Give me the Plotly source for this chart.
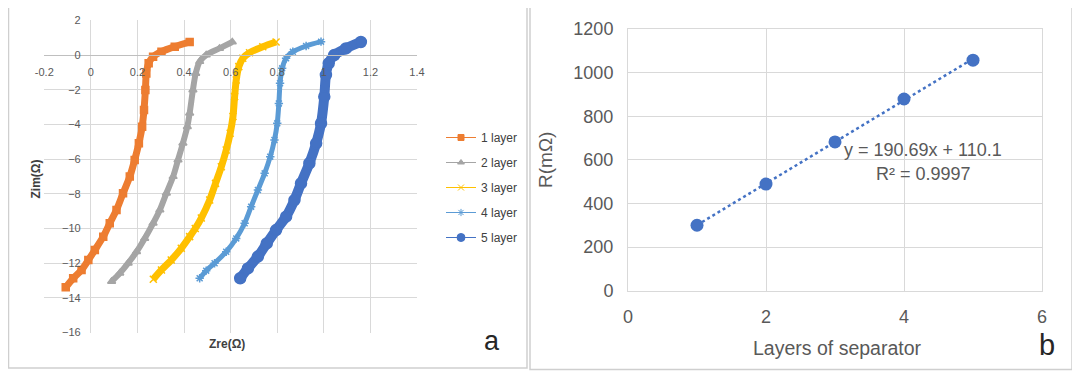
import plotly.graph_objects as go

# ---------------- data: panel a (Nyquist curves) ----------------
L1_RE = [-0.108, -0.076, -0.04, -0.011, 0.017, 0.053, 0.081, 0.11, 0.138, 0.167, 0.188, 0.206, 0.22, 0.228, 0.234, 0.238, 0.248, 0.267, 0.303, 0.36, 0.424]
L1_IM = [-13.39, -12.87, -12.39, -11.82, -11.24, -10.47, -9.70, -8.93, -7.97, -7.01, -6.05, -5.09, -4.13, -3.17, -2.02, -1.06, -0.48, -0.10, 0.19, 0.48, 0.75]

L2_RE = [0.089, 0.124, 0.16, 0.196, 0.231, 0.267, 0.296, 0.324, 0.353, 0.374, 0.395, 0.414, 0.424, 0.438, 0.45, 0.467, 0.495, 0.552, 0.607]
L2_IM = [-13.05, -12.58, -12.0, -11.34, -10.57, -9.70, -8.93, -7.97, -7.01, -6.05, -5.09, -4.13, -3.36, -2.02, -1.06, -0.38, 0.0, 0.38, 0.75]

L3_RE = [0.268, 0.303, 0.345, 0.388, 0.424, 0.448, 0.474, 0.51, 0.535, 0.56, 0.581, 0.598, 0.61, 0.617, 0.624, 0.635, 0.652, 0.681, 0.738, 0.795]
L3_IM = [-12.92, -12.39, -11.82, -11.14, -10.47, -10.0, -9.4, -8.36, -7.40, -6.44, -5.48, -4.51, -3.55, -2.40, -1.44, -0.67, -0.19, 0.13, 0.48, 0.75]

L4_RE = [0.467, 0.495, 0.531, 0.581, 0.624, 0.66, 0.688, 0.717, 0.746, 0.77, 0.788, 0.80, 0.807, 0.812, 0.821, 0.838, 0.867, 0.924, 0.988]
L4_IM = [-12.87, -12.43, -12.0, -11.34, -10.57, -9.70, -8.74, -7.78, -6.82, -5.86, -4.90, -3.94, -2.79, -1.63, -0.77, -0.19, 0.19, 0.52, 0.77]

L5_RE = [0.641, 0.674, 0.717, 0.755, 0.795, 0.838, 0.874, 0.902, 0.938, 0.967, 0.988, 1.002, 1.009, 1.021, 1.045, 1.095, 1.159]
L5_IM = [-12.87, -12.30, -11.62, -10.86, -10.09, -9.32, -8.36, -7.40, -6.24, -5.09, -3.94, -2.40, -1.15, -0.48, 0.0, 0.38, 0.75]

SERIES_NAMES = ["1 layer", "2 layer", "3 layer", "4 layer", "5 layer"]

A_XTICKS = [-0.2, 0, 0.2, 0.4, 0.6, 0.8, 1.0, 1.2, 1.4]
A_XTICKTEXT = ["-0.2", "0", "0.2", "0.4", "0.6", "0.8", "1", "1.2", "1.4"]
A_YTICKS = [2, 0, -2, -4, -6, -8, -10, -12, -14, -16]

# ---------------- data: panel b (R vs layers) ----------------
LAYERS = [1, 2, 3, 4, 5]
R_MOHM = [300, 489, 682, 879, 1057]
TREND_SLOPE = 190.69
TREND_INTERCEPT = 110.1
TREND_R2 = "0.9997"
B_XTICKS = [0, 2, 4, 6]
B_YTICKS = [0, 200, 400, 600, 800, 1000, 1200]

# ---------------- layout geometry ----------------
# the page body has an 8px margin, so the figure is drawn 8px smaller and
# reference pixel positions are shifted by that offset
OFF = 8
W, H = 1080 - OFF, 375 - OFF
FONT = "Liberation Sans, Arial, sans-serif"

def px_x(p):
    return (p - OFF) / W

def px_y(p):
    return 1 - (p - OFF) / H

AX_DOM = [px_x(44.3), px_x(417)]
AY_DOM = [px_y(332.6), px_y(20.3)]
A_XR = [-0.2, 1.4]
A_YR = [-16, 2]
ay_pos = AX_DOM[0] + (AX_DOM[1] - AX_DOM[0]) * (0 - A_XR[0]) / (A_XR[1] - A_XR[0])
ax_pos = AY_DOM[0] + (AY_DOM[1] - AY_DOM[0]) * (0 - A_YR[0]) / (A_YR[1] - A_YR[0])

BX_DOM = [px_x(628), px_x(1042)]
BY_DOM = [px_y(290.7), px_y(29)]

styles = [
    dict(color="#ED7D31", symbol="square", msize=7, lw=7),
    dict(color="#A5A5A5", symbol="triangle-up", msize=7, lw=6),
    dict(color="#FFC000", symbol="x-thin-open", msize=7, lw=7),
    dict(color="#5B9BD5", symbol="asterisk-open", msize=7, lw=5),
    dict(color="#4472C4", symbol="circle", msize=11, lw=10),
]
curves = [(L1_RE, L1_IM), (L2_RE, L2_IM), (L3_RE, L3_IM), (L4_RE, L4_IM), (L5_RE, L5_IM)]

fig = go.Figure()

for name, (re_, im_), st in zip(SERIES_NAMES, curves, styles):
    fig.add_trace(go.Scatter(
        x=re_, y=im_, mode="lines+markers", name=name,
        showlegend=False, xaxis="x", yaxis="y",
        line=dict(color=st["color"], width=st["lw"], shape="spline", smoothing=0.8),
        marker=dict(symbol=st["symbol"], size=st["msize"], color=st["color"],
                    line=dict(color=st["color"], width=1.5)),
    ))
# legend entries (thin line + marker as in the original legend)
for i, (name, st) in enumerate(zip(SERIES_NAMES, styles)):
    fig.add_trace(go.Scatter(
        x=[None], y=[None], mode="lines+markers", name=name, legendgroup=f"g{i}",
        showlegend=True, xaxis="x", yaxis="y",
        line=dict(color=st["color"], width=1),
        marker=dict(symbol=st["symbol"], size=8 if i == 4 else 6, color=st["color"],
                    line=dict(color=st["color"], width=1)),
    ))

# panel b
fig.add_trace(go.Scatter(
    x=[LAYERS[0], LAYERS[-1]],
    y=[TREND_SLOPE * LAYERS[0] + TREND_INTERCEPT, TREND_SLOPE * LAYERS[-1] + TREND_INTERCEPT],
    mode="lines", line=dict(color="#4472C4", width=2.5, dash="dot"),
    showlegend=False, xaxis="x2", yaxis="y2",
))
fig.add_trace(go.Scatter(
    x=LAYERS, y=R_MOHM, mode="markers",
    marker=dict(symbol="circle", size=13, color="#4472C4"),
    showlegend=False, xaxis="x2", yaxis="y2",
))

GRID = "#d9d9d9"
TICKC = "#595959"

fig.update_layout(
    template="none",
    width=W, height=H, margin=dict(l=0, r=0, t=0, b=0, pad=0, autoexpand=False),
    paper_bgcolor="white", plot_bgcolor="white",
    font=dict(family=FONT, color=TICKC),
    xaxis=dict(domain=AX_DOM, range=A_XR, tickvals=A_XTICKS, ticktext=A_XTICKTEXT,
               anchor="free", position=ax_pos, showgrid=True, gridcolor=GRID, gridwidth=1,
               showline=True, linecolor="#bfbfbf", linewidth=1, zeroline=False,
               ticks="outside", ticklen=7, tickcolor="rgba(0,0,0,0)", automargin=False,
               tickfont=dict(size=11, color=TICKC), fixedrange=True),
    yaxis=dict(domain=AY_DOM, range=A_YR, tickvals=A_YTICKS,
               anchor="free", position=ay_pos, showgrid=True, gridcolor=GRID, gridwidth=1,
               showline=False, zeroline=False, automargin=False,
               ticks="outside", ticklen=8, tickcolor="rgba(0,0,0,0)",
               tickfont=dict(size=11, color=TICKC), fixedrange=True),
    xaxis2=dict(domain=BX_DOM, range=[0, 6], tickvals=B_XTICKS, anchor="y2",
                showgrid=True, gridcolor=GRID, gridwidth=1, automargin=False,
                showline=True, linecolor=GRID, mirror=True, zeroline=False,
                ticks="outside", ticklen=10, tickcolor="rgba(0,0,0,0)",
                tickfont=dict(size=18, color=TICKC), fixedrange=True),
    yaxis2=dict(domain=BY_DOM, range=[0, 1200], tickvals=B_YTICKS, anchor="x2",
                showgrid=True, gridcolor=GRID, gridwidth=1, automargin=False,
                showline=True, linecolor=GRID, mirror=True, zeroline=False,
                ticks="outside", ticklen=10, tickcolor="rgba(0,0,0,0)",
                tickfont=dict(size=18, color=TICKC), fixedrange=True),
    legend=dict(x=px_x(441), y=px_y(123), xanchor="left", yanchor="top",
                font=dict(size=12, color="#404040"), bgcolor="rgba(0,0,0,0)",
                tracegroupgap=6),
    showlegend=True,
)

shapes = [
    dict(type="rect", xref="paper", yref="paper",
         x0=px_x(8.5), x1=px_x(527), y0=px_y(368), y1=px_y(4.7),
         line=dict(color="#cfcfcf", width=1.5)),
    dict(type="rect", xref="paper", yref="paper",
         x0=px_x(530), x1=px_x(1072), y0=px_y(369.5), y1=px_y(3.3),
         line=dict(color="#cfcfcf", width=1.5)),
]
fig.update_layout(shapes=shapes)

ann = [
    dict(text="<b>Zim(Ω)</b>", x=px_x(35.5), y=px_y(179), textangle=-90,
         font=dict(size=12, color="#404040")),
    dict(text="<b>Zre(Ω)</b>", x=px_x(227), y=px_y(344),
         font=dict(size=12, color="#404040")),
    dict(text="a", x=px_x(491.7), y=px_y(341), font=dict(size=27, color="#262626")),
    dict(text="R(mΩ)", x=px_x(545), y=px_y(160), textangle=-90,
         font=dict(size=19, color=TICKC)),
    dict(text="Layers of separator", x=px_x(837), y=px_y(348),
         font=dict(size=19.5, color=TICKC)),
    dict(text="b", x=px_x(1046.7), y=px_y(345), font=dict(size=29, color="#262626")),
    dict(text=f"y = {TREND_SLOPE}x + {TREND_INTERCEPT}", x=px_x(923), y=px_y(150),
         font=dict(size=18, color=TICKC)),
    dict(text=f"R² = {TREND_R2}", x=px_x(923), y=px_y(174),
         font=dict(size=18, color=TICKC)),
]
for a in ann:
    a.update(xref="paper", yref="paper", showarrow=False, xanchor="center", yanchor="middle")
fig.update_layout(annotations=ann)

fig.write_html("out.html")
